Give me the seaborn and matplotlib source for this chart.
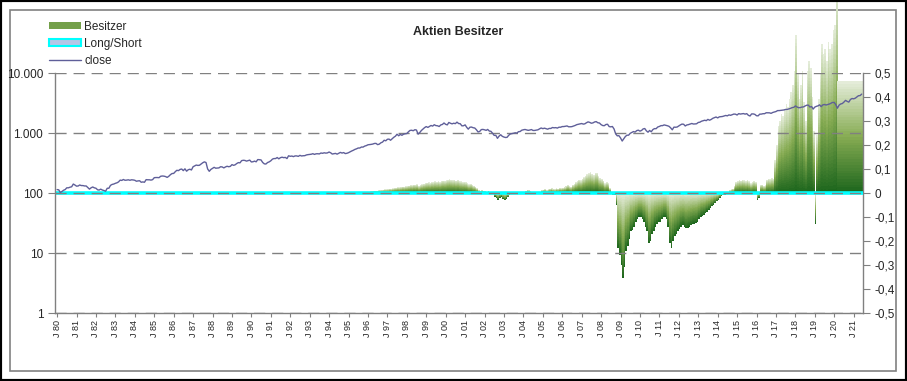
import numpy as np
import pandas as pd
import matplotlib
matplotlib.use("Agg")
import matplotlib.pyplot as plt
import matplotlib.dates as mdates
from matplotlib.colors import LinearSegmentedColormap
from matplotlib.patches import Patch, Rectangle
from matplotlib.lines import Line2D
import seaborn as sns

# --- Daten (monatlich) ---
close_start = "1980-01-01"
close = [
    114, 113, 102, 106, 111, 114, 122, 122, 125, 127, 141, 136,          # 1980
    130, 131, 136, 133, 133, 131, 131, 123, 116, 122, 126, 122,          # 1981
    120, 113, 112, 116, 112, 110, 107, 120, 120, 134, 139, 141,          # 1982
    145, 148, 153, 164, 162, 168, 163, 164, 166, 163, 166, 165,          # 1983
    163, 157, 159, 160, 151, 153, 151, 167, 166, 166, 164, 167,          # 1984
    180, 181, 181, 180, 190, 192, 191, 188, 182, 190, 202, 211,          # 1985
    212, 227, 239, 236, 247, 251, 236, 253, 231, 244, 249, 242,          # 1986
    274, 284, 292, 288, 290, 304, 319, 330, 322, 252, 230, 247,          # 1987
    257, 268, 259, 261, 262, 274, 272, 262, 272, 279, 274, 278,          # 1988
    297, 289, 295, 310, 321, 318, 346, 351, 349, 340, 346, 353,          # 1989
    329, 332, 340, 331, 361, 358, 356, 323, 306, 304, 322, 330,          # 1990
    344, 367, 375, 375, 390, 371, 388, 395, 388, 392, 375, 417,          # 1991
    409, 413, 404, 415, 415, 408, 424, 414, 418, 419, 431, 436,          # 1992
    439, 443, 452, 440, 450, 451, 448, 464, 459, 468, 462, 466,          # 1993
    482, 467, 446, 451, 457, 444, 458, 475, 463, 472, 454, 459,          # 1994
    470, 487, 501, 515, 533, 545, 562, 562, 584, 582, 605, 616,          # 1995
    636, 640, 646, 654, 669, 671, 640, 652, 687, 705, 757, 741,          # 1996
    786, 791, 757, 801, 848, 885, 954, 899, 947, 915, 955, 970,          # 1997
    980, 1049, 1102, 1112, 1091, 1134, 1121, 957, 1017, 1099, 1164, 1229,  # 1998
    1280, 1238, 1286, 1335, 1302, 1373, 1329, 1320, 1283, 1363, 1389, 1469,  # 1999
    1394, 1366, 1499, 1452, 1421, 1455, 1431, 1518, 1437, 1429, 1315, 1320,  # 2000
    1366, 1240, 1160, 1249, 1256, 1224, 1211, 1134, 1041, 1060, 1139, 1148,  # 2001
    1130, 1107, 1147, 1077, 1067, 990, 912, 916, 815, 886, 936, 880,     # 2002
    856, 841, 848, 917, 964, 975, 990, 1008, 996, 1051, 1058, 1112,      # 2003
    1131, 1145, 1126, 1107, 1121, 1141, 1102, 1104, 1115, 1130, 1174, 1212,  # 2004
    1181, 1204, 1181, 1157, 1192, 1191, 1234, 1220, 1229, 1207, 1249, 1248,  # 2005
    1280, 1281, 1295, 1311, 1270, 1270, 1277, 1304, 1336, 1378, 1401, 1418,  # 2006
    1438, 1407, 1421, 1482, 1531, 1503, 1455, 1474, 1527, 1549, 1481, 1468,  # 2007
    1379, 1331, 1323, 1386, 1400, 1280, 1267, 1283, 1166, 969, 896, 903,  # 2008
    826, 735, 798, 873, 919, 919, 987, 1021, 1057, 1036, 1096, 1115,     # 2009
    1074, 1104, 1169, 1187, 1089, 1031, 1102, 1049, 1141, 1183, 1181, 1258,  # 2010
    1286, 1327, 1326, 1364, 1345, 1321, 1292, 1219, 1131, 1253, 1247, 1258,  # 2011
    1312, 1366, 1408, 1398, 1310, 1362, 1379, 1407, 1441, 1412, 1416, 1426,  # 2012
    1498, 1515, 1569, 1598, 1631, 1606, 1686, 1633, 1682, 1757, 1806, 1848,  # 2013
    1783, 1859, 1872, 1884, 1924, 1960, 1931, 2003, 1972, 2018, 2068, 2059,  # 2014
    1995, 2105, 2068, 2086, 2107, 2063, 2104, 1972, 1920, 2079, 2080, 2044,  # 2015
    1940, 1932, 2060, 2065, 2097, 2099, 2174, 2171, 2168, 2126, 2199, 2239,  # 2016
    2279, 2364, 2363, 2384, 2412, 2423, 2470, 2472, 2519, 2575, 2648, 2674,  # 2017
    2824, 2714, 2641, 2648, 2705, 2718, 2816, 2902, 2914, 2712, 2760, 2507,  # 2018
    2704, 2784, 2834, 2946, 2752, 2942, 2980, 2926, 2977, 3038, 3141, 3231,  # 2019
    3226, 2954, 2585, 2912, 3044, 3100, 3271, 3500, 3363, 3270, 3622, 3756,  # 2020
    3714, 3811, 3973, 4181, 4204, 4450,                                  # 2021
]

besitzer_start = "1996-01-01"
besitzer = [
    0.006, 0.007, 0.008, 0.009, 0.010, 0.010, 0.011, 0.012, 0.013, 0.014, 0.015, 0.015,   # 1996
    0.016, 0.018, 0.017, 0.019, 0.021, 0.022, 0.024, 0.023, 0.025, 0.027, 0.026, 0.028,   # 1997
    0.029, 0.031, 0.033, 0.032, 0.035, 0.034, 0.036, 0.030, 0.033, 0.036, 0.039, 0.041,   # 1998
    0.043, 0.044, 0.042, 0.046, 0.045, 0.048, 0.047, 0.049, 0.046, 0.050, 0.052, 0.051,   # 1999
    0.053, 0.055, 0.057, 0.056, 0.054, 0.055, 0.052, 0.054, 0.050, 0.048, 0.046, 0.047,   # 2000
    0.045, 0.040, 0.036, 0.038, 0.033, 0.030, 0.026, 0.020, 0.012, 0.010, 0.012, 0.009,   # 2001
    0.008, 0.006, 0.010, 0.004, 0.002, -0.004, -0.015, -0.022, -0.028, -0.020, -0.016, -0.025,  # 2002
    -0.030, -0.024, -0.018, -0.010, -0.004, 0.002, 0.003, 0.002, 0.004, 0.002, 0.001, 0.003,  # 2003
    0.005, 0.010, 0.013, 0.012, 0.008, 0.004, 0.003, 0.002, 0.004, 0.003, 0.006, 0.012,   # 2004
    0.014, 0.016, 0.012, 0.015, 0.018, 0.020, 0.017, 0.016, 0.019, 0.018, 0.021, 0.020,   # 2005
    0.022, 0.025, 0.030, 0.033, 0.028, 0.026, 0.034, 0.038, 0.045, 0.050, 0.055, 0.053,   # 2006
    0.060, 0.066, 0.072, 0.078, 0.082, 0.086, 0.080, 0.075, 0.084, 0.085, 0.070, 0.062,   # 2007
    0.058, 0.052, 0.040, 0.045, 0.040, 0.020, -0.005, -0.010, -0.008, -0.050, -0.230, -0.260,  # 2008
    -0.300, -0.355, -0.310, -0.240, -0.220, -0.190, -0.160, -0.155, -0.140, -0.120, -0.110, -0.100,  # 2009
    -0.100, -0.110, -0.120, -0.140, -0.160, -0.210, -0.200, -0.170, -0.160, -0.140, -0.130, -0.120,  # 2010
    -0.120, -0.110, -0.100, -0.100, -0.110, -0.140, -0.210, -0.230, -0.200, -0.180, -0.170, -0.160,  # 2011
    -0.150, -0.140, -0.135, -0.140, -0.147, -0.145, -0.140, -0.135, -0.130, -0.128, -0.125, -0.120,  # 2012
    -0.110, -0.100, -0.095, -0.090, -0.085, -0.078, -0.070, -0.062, -0.055, -0.048, -0.043, -0.035,  # 2013
    -0.028, -0.020, -0.014, -0.010, -0.007, -0.005, -0.002, 0.012, 0.015, 0.018, 0.030, 0.045,  # 2014
    0.050, 0.054, 0.052, 0.055, 0.053, 0.050, 0.054, 0.048, 0.040, 0.045, 0.050, 0.046,   # 2015
    -0.030, -0.020, 0.033, 0.035, 0.030, 0.032, 0.055, 0.060, 0.058, 0.062, 0.060, 0.137,  # 2016
    0.200, 0.280, 0.300, 0.330, 0.320, 0.350, 0.370, 0.360, 0.390, 0.420, 0.450, 0.510,   # 2017
    0.660, 0.500, 0.390, 0.450, 0.510, 0.380, 0.300, 0.510, 0.550, 0.520, 0.400, 0.260,   # 2018
    -0.130, 0.240, 0.390, 0.500, 0.620, 0.580, 0.600, 0.550, 0.630, 0.600, 0.620, 0.680,  # 2019
    0.700, 0.850, 0.467, 0.467, 0.467, 0.467, 0.467, 0.467, 0.467, 0.467, 0.467, 0.467,   # 2020
    0.467, 0.467, 0.467, 0.467, 0.467, 0.467,                                             # 2021
]

long_short_level = 0.0
left_ticks = [1, 10, 100, 1000, 10000]
left_labels = ["1", "10", "100", "1.000", "10.000"]
right_ticks = [-0.5, -0.4, -0.3, -0.2, -0.1, 0, 0.1, 0.2, 0.3, 0.4, 0.5]
right_labels = ["-0,5", "-0,4", "-0,3", "-0,2", "-0,1", "0", "0,1", "0,2", "0,3", "0,4", "0,5"]

sns.set_style("white")
plt.rcParams["font.family"] = ["Liberation Sans", "DejaVu Sans"]

close_dates = pd.date_range(close_start, periods=len(close), freq="MS")
bes_dates = pd.date_range(besitzer_start, periods=len(besitzer), freq="MS")
df = pd.DataFrame({"date": close_dates, "close": close})

fig = plt.figure(figsize=(9.07, 3.81), dpi=100)
ax = fig.add_axes([55 / 907, 1 - 313 / 381, (863 - 55) / 907, 240 / 381])
ax2 = ax.twinx()

# Besitzer: Balken mit Farbverlauf (dunkel unten, hell oben)
cmap = LinearSegmentedColormap.from_list("bes", ["#1c651c", "#86ab52", "#e6eedc"])
x = mdates.date2num(bes_dates.to_pydatetime())
v = np.array(besitzer)
n_seg = 40
for k in range(n_seg):
    t = np.where(v >= 0, (k + 0.5) / n_seg, 1 - (k + 0.5) / n_seg)
    bars = ax2.bar(x, v / n_seg, bottom=v * k / n_seg, width=31, align="edge",
                   color=cmap(t), linewidth=0, antialiased=False, zorder=2)
    for b in bars:
        b.set_clip_on(False)

ax2.axhline(long_short_level, color="#00ffff", lw=2.6, zorder=5)

# close auf der linken Log-Achse
sns.lineplot(data=df, x="date", y="close", ax=ax, color="#5f5f99", lw=1.0)
ax.set_yscale("log")
ax.set_zorder(ax2.get_zorder() + 1)
ax.patch.set_visible(False)

ax.set_ylim(1, 10000)
ax2.set_ylim(-0.5, 0.5)
ax.set_xlim(mdates.date2num(pd.Timestamp("1979-11-23")), mdates.date2num(pd.Timestamp("2021-06-25")))

ax.yaxis.set_major_locator(plt.FixedLocator(left_ticks))
ax.yaxis.set_minor_locator(plt.NullLocator())
ax.set_yticklabels(left_labels)
ax2.set_yticks(right_ticks)
ax2.set_yticklabels(right_labels)

years = pd.date_range("1980-01-01", "2021-01-01", freq="YS")
ax.set_xticks(mdates.date2num(years.to_pydatetime()))
ax.set_xticklabels([f"J {str(y.year)[2:]}" for y in years], rotation=90, fontsize=6.5)

ax.yaxis.grid(True, linestyle=(0, (8, 5)), color="#808080", lw=1)
ax.xaxis.grid(False)
ax.set_xlabel("")
ax.set_ylabel("")

for a in (ax, ax2):
    for s in a.spines.values():
        s.set_visible(False)
ax.spines["left"].set_visible(True)
ax.spines["bottom"].set_visible(True)
ax2.spines["right"].set_visible(True)
for s in (ax.spines["left"], ax.spines["bottom"], ax2.spines["right"]):
    s.set_color("#808080")
    s.set_linewidth(1)

ax.tick_params(axis="y", which="major", direction="out", length=5, color="#808080", labelsize=8.5, left=True)
ax.tick_params(axis="x", direction="out", length=3, color="#808080", pad=2, bottom=True)
ax2.tick_params(axis="y", direction="out", length=5, color="#808080", labelsize=8.5, right=True)

fig.text(458 / 907, 1 - 32 / 381, "Aktien Besitzer", ha="center", va="center",
         fontsize=9, fontweight="bold")

handles = [
    Patch(facecolor="#74a04a", edgecolor="none"),
    Patch(facecolor="#b4c7e7", edgecolor="#00ffff", lw=1.5),
    Line2D([], [], color="#5f5f99", lw=1),
]
fig.legend(handles, ["Besitzer", "Long/Short", "close"], loc="upper left",
           bbox_to_anchor=(49 / 907, 1 - 21 / 381), frameon=False, fontsize=8.5,
           handlelength=2.7, handleheight=0.55, labelspacing=0.42, handletextpad=0.3,
           borderpad=0, borderaxespad=0)

# Rahmen
fig.patches.append(Rectangle((10 / 907, 10 / 381), 886 / 907, 361 / 381, transform=fig.transFigure,
                             fill=False, edgecolor="#808080", lw=1.2, zorder=-1))
fig.patches.append(Rectangle((0, 0), 1, 1, transform=fig.transFigure,
                             fill=False, edgecolor="black", lw=3, zorder=10))

fig.savefig("out.png", dpi=100)
